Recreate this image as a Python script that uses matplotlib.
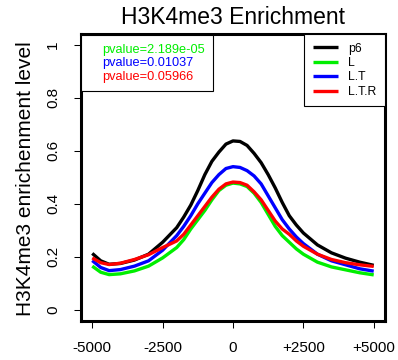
import matplotlib
matplotlib.use("Agg")
import matplotlib.pyplot as plt
from matplotlib.lines import Line2D

plt.rcParams['font.family'] = ['Liberation Sans', 'DejaVu Sans']

# distance to TSS (bp)
pos = [-5000, -4700, -4400, -4000, -3500, -3000, -2500,
       -2000, -1750, -1500, -1250, -1000, -750, -500, -250,
       0, 250, 500, 750, 1000, 1250, 1500, 1750, 2000, 2250,
       2500, 3000, 3500, 4000, 4500, 5000]

p6 = [0.213, 0.185, 0.172, 0.175, 0.188, 0.21, 0.255,
      0.31, 0.35, 0.395, 0.45, 0.51, 0.56, 0.595, 0.625,
      0.637, 0.635, 0.62, 0.59, 0.555, 0.51, 0.46, 0.405, 0.355, 0.32,
      0.29, 0.245, 0.215, 0.195, 0.18, 0.168]
L = [0.165, 0.142, 0.133, 0.136, 0.147, 0.165, 0.196,
     0.235, 0.265, 0.305, 0.34, 0.375, 0.415, 0.45, 0.47,
     0.478, 0.475, 0.465, 0.44, 0.405, 0.36, 0.315, 0.28, 0.255, 0.23,
     0.21, 0.18, 0.162, 0.151, 0.14, 0.132]
LT = [0.186, 0.160, 0.148, 0.152, 0.165, 0.185, 0.225,
      0.28, 0.315, 0.355, 0.40, 0.44, 0.48, 0.51, 0.533,
      0.54, 0.537, 0.525, 0.505, 0.475, 0.43, 0.385, 0.34, 0.305, 0.275,
      0.25, 0.21, 0.185, 0.17, 0.155, 0.146]
LTR = [0.196, 0.178, 0.171, 0.176, 0.19, 0.208, 0.235,
       0.26, 0.285, 0.32, 0.355, 0.39, 0.425, 0.455, 0.475,
       0.482, 0.48, 0.47, 0.445, 0.415, 0.375, 0.335, 0.305, 0.285, 0.26,
       0.24, 0.21, 0.19, 0.178, 0.17, 0.164]

series = [("p6", p6, "black"), ("L", L, "#00ee00"), ("L.T", LT, "#0000ff"), ("L.T.R", LTR, "#ff0000")]
pvals = ["pvalue=2.189e-05", "pvalue=0.01037", "pvalue=0.05966"]
pcols = ["#00ee00", "#0000ff", "#ff0000"]

xticks = [-5000, -2500, 0, 2500, 5000]
xlabels = ["-5000", "-2500", "0", "+2500", "+5000"]
yticks = [0, 0.2, 0.4, 0.6, 0.8, 1]
ylabels = ["0", "0.2", "0.4", "0.6", "0.8", "1"]

fig = plt.figure(figsize=(3.98, 3.6), dpi=100)
ax = fig.add_axes([0.2035, 0.1097, 0.7638, 0.7958])

handles = []
for name, vals, col in series:
    h, = ax.plot(pos, vals, color=col, lw=2.4, label=name,
                 solid_joinstyle='round', solid_capstyle='butt')
    handles.append(h)

ax.set_xlim(-5400, 5400)
ax.set_ylim(-0.04, 1.04)
ax.set_xticks(xticks)
ax.set_xticklabels(xlabels)
ax.set_yticks(yticks)
ax.set_yticklabels(ylabels, rotation=90, va='center')
ax.tick_params(axis='both', direction='out', length=5, width=0.75, labelsize=11, pad=10)
for s in ax.spines.values():
    s.set_linewidth(2.2)

# legend for the samples
leg1 = ax.legend(handles=handles, loc='upper right', bbox_to_anchor=(1, 1), borderaxespad=0,
                 fancybox=False, edgecolor='black', framealpha=1, fontsize=8.8,
                 handlelength=2.1, handletextpad=0.8, labelspacing=0.2, borderpad=0.7)
leg1.get_frame().set_linewidth(0.8)
ax.add_artist(leg1)

# p-value box
blank = [Line2D([], [], alpha=0) for _ in pvals]
leg2 = ax.legend(blank, pvals, loc='upper left', bbox_to_anchor=(0, 0.995), borderaxespad=0,
                 fancybox=False, edgecolor='black', framealpha=1, fontsize=9.2,
                 handlelength=1.0, handletextpad=0, labelspacing=0.12, borderpad=0.65,
                 labelcolor=pcols)
leg2.get_frame().set_linewidth(0.8)

fig.text(233 / 398, 1 - 17 / 360, "H3K4me3 Enrichment", ha='center', va='center', fontsize=16.5)
fig.text(26 / 398, 1 - 179 / 360, "H3K4me3 enrichenment level", rotation=90,
         ha='center', va='center', fontsize=15)

fig.savefig("out.png", dpi=100)
